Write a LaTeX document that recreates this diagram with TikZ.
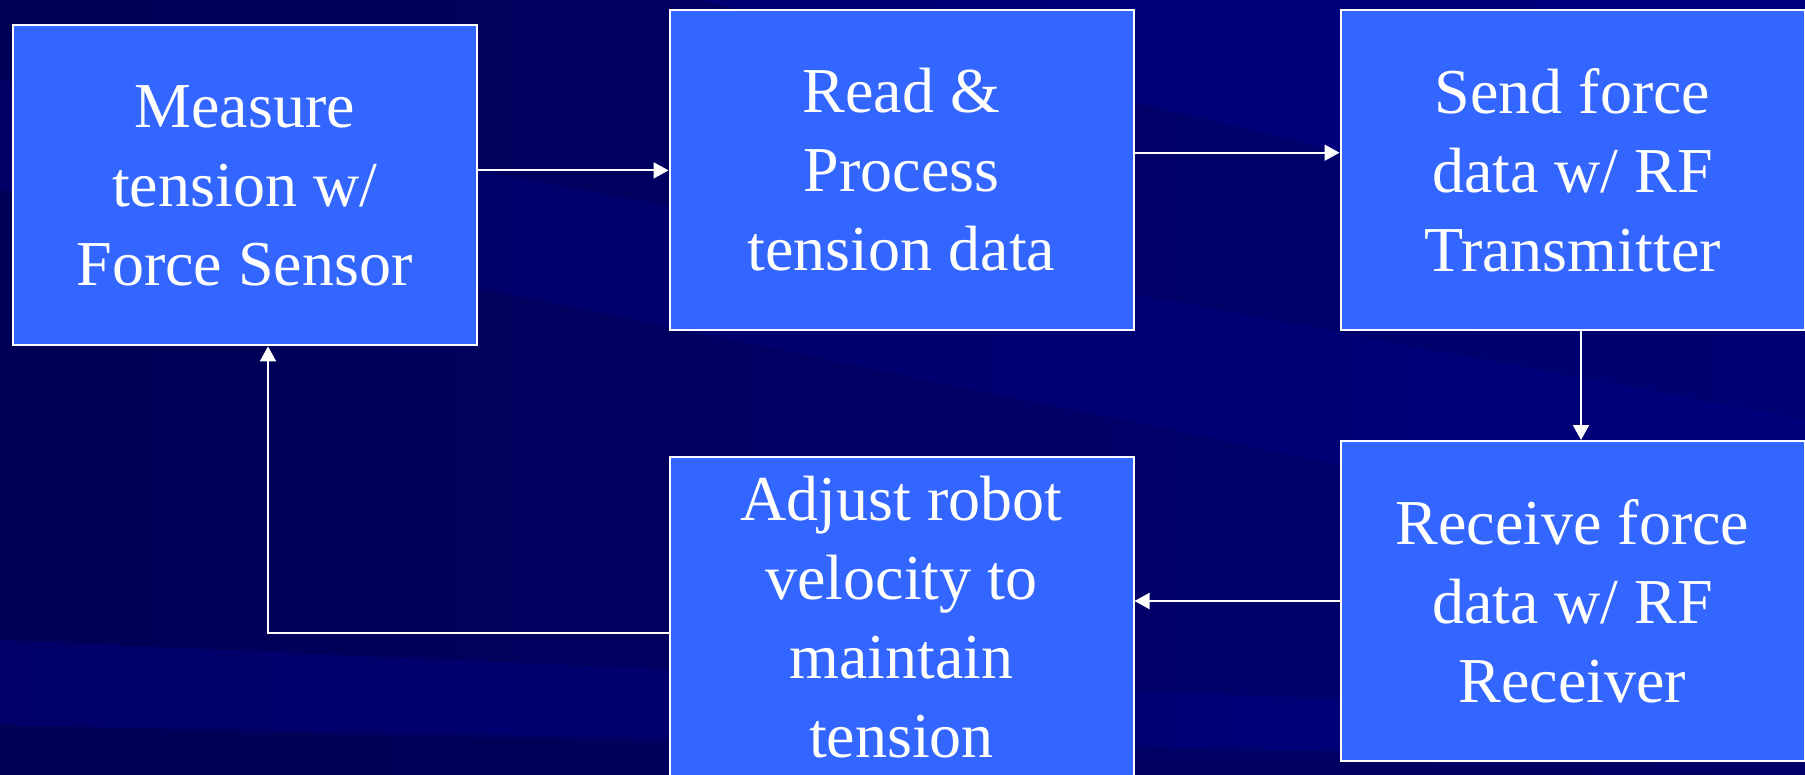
\documentclass[tikz,border=0pt]{standalone}
\usepackage{fontspec}
\setmainfont{Liberation Serif}
\usetikzlibrary{arrows.meta, positioning}

\definecolor{navy}{RGB}{0,0,115}
\definecolor{navydark}{RGB}{0,0,85}
\definecolor{navylight}{RGB}{0,0,150}
\definecolor{boxblue}{RGB}{51,102,255}

\tikzset{
  block/.style={draw=white, line width=1pt, fill=boxblue, text=white,
    minimum width=232pt, minimum height=160pt, align=center,
    font=\fontsize{32}{39.5}\selectfont},
  flow/.style={draw=white, line width=1pt, -{Triangle[length=7.5pt,width=8pt]}}
}

\begin{document}
\begin{tikzpicture}[x=0.5pt,y=-0.5pt]
    % Background
    \clip (0,0) rectangle (1805,775);
    \useasboundingbox (0,0) rectangle (1805,775);
    \shade[left color=navydark, right color=navy] (0,0) rectangle (1805,775);
    \fill[navylight, opacity=0.35] (700,0) -- (1805,0) -- (1805,260) -- cycle;
    \fill[navylight, opacity=0.25] (0,80) -- (1805,420) -- (1805,560) -- (0,190) -- cycle;
    \fill[navylight, opacity=0.3] (0,640) -- (1805,720) -- (1805,775) -- (0,725) -- cycle;
    \fill[navydark, opacity=0.5] (0,725) -- (1805,760) -- (1805,775) -- (0,775) -- cycle;

    % Blocks
    \node[block] (measure) at (244.6,185.4) {Measure\\tension w/\\Force Sensor};
    \node[block] (process) at (901.5,169.7) {Read \&\\Process\\tension data};
    \node[block] (send) at (1572.5,170) {Send force\\data w/ RF\\Transmitter};
    \node[block] (receive) at (1572.5,601) {Receive force\\data w/ RF\\Receiver};
    \node[block] (adjust) at (901.5,617) {Adjust robot\\velocity to\\maintain\\tension};

    % Connectors
    \draw[flow] ([yshift=7.5pt]measure.east) -- ([yshift=7.5pt]measure.east -| process.west);
    \draw[flow] ([yshift=8.5pt]process.east) -- ([yshift=8.5pt]process.east -| send.west);
    \draw[flow] ([xshift=4.25pt]send.south) -- ([xshift=4.25pt]send.south |- receive.north);
    \draw[flow] (receive.west) -- (receive.west -| adjust.east);
    \draw[flow] ([yshift=-8pt]adjust.west) -| ([xshift=11.7pt]measure.south);
\end{tikzpicture}
\end{document}
